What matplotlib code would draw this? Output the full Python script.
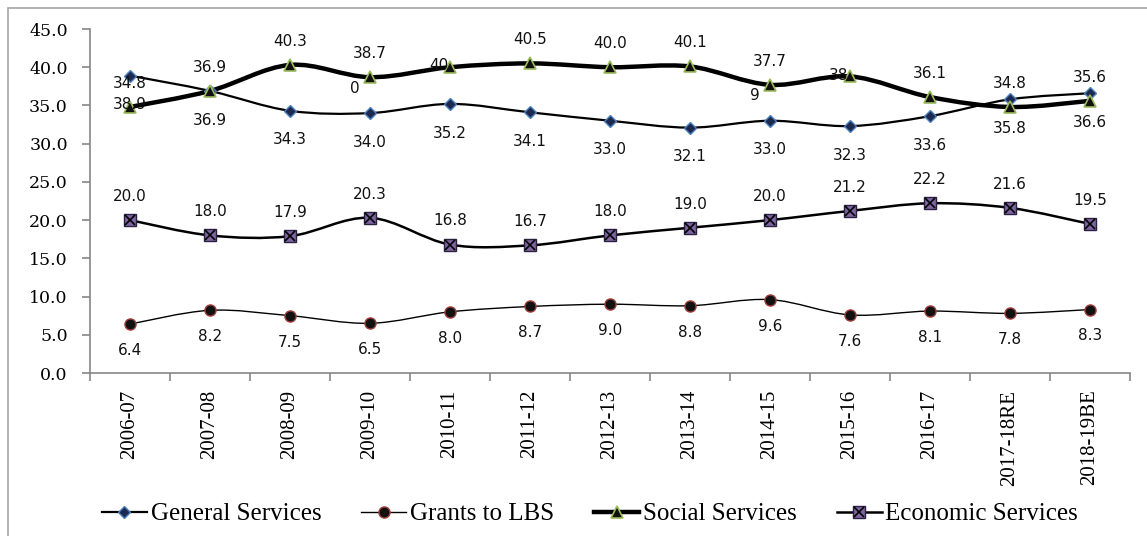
import numpy as np
import matplotlib
matplotlib.use("Agg")
import matplotlib.pyplot as plt
from matplotlib.path import Path
from matplotlib.patches import PathPatch, Rectangle
from matplotlib.lines import Line2D
from matplotlib.legend_handler import HandlerTuple

years = ["2006-07", "2007-08", "2008-09", "2009-10", "2010-11", "2011-12", "2012-13",
         "2013-14", "2014-15", "2015-16", "2016-17", "2017-18RE", "2018-19BE"]

general = [38.9, 36.9, 34.3, 34.0, 35.2, 34.1, 33.0, 32.1, 33.0, 32.3, 33.6, 35.8, 36.6]
grants = [6.4, 8.2, 7.5, 6.5, 8.0, 8.7, 9.0, 8.8, 9.6, 7.6, 8.1, 7.8, 8.3]
social = [34.8, 36.9, 40.3, 38.7, 40.0, 40.5, 40.0, 40.1, 37.7, 38.8, 36.1, 34.8, 35.6]
economic = [20.0, 18.0, 17.9, 20.3, 16.8, 16.7, 18.0, 19.0, 20.0, 21.2, 22.2, 21.6, 19.5]

# labels as they show in the original (some got clipped there)
general_lbl = ["38.9", "36.9", "34.3", "34.0", "35.2", "34.1", "33.0", "32.1", "33.0", "32.3", "33.6", "35.8", "36.6"]
social_lbl = ["34.8", "36.9", "40.3", "38.7", None, "40.5", "40.0", "40.1", "37.7", None, "36.1", "34.8", "35.6"]
grants_lbl = ["%.1f" % v for v in grants]
economic_lbl = ["%.1f" % v for v in economic]


def smooth_path(xs, ys):
    # excel-like smoothed line: catmull-rom segments as cubic beziers
    pts = np.column_stack([xs, ys]).astype(float)
    n = len(pts)
    verts = [pts[0]]
    codes = [Path.MOVETO]
    for i in range(n - 1):
        p0 = pts[i - 1] if i > 0 else pts[i]
        p1 = pts[i]
        p2 = pts[i + 1]
        p3 = pts[i + 2] if i + 2 < n else pts[i + 1]
        c1 = p1 + (p2 - p0) / 6
        c2 = p2 - (p3 - p1) / 6
        verts += [c1, c2, p2]
        codes += [Path.CURVE4] * 3
    return Path(verts, codes)


fig = plt.figure(figsize=(11.47, 5.36), dpi=100)
fig.patches.append(Rectangle((8 / 1147, -0.05), 1.1, 0.05 + 528 / 536, transform=fig.transFigure,
                             fill=False, edgecolor="#a6a6a6", linewidth=1.2, clip_on=False))
ax = fig.add_axes([90 / 1147, 163 / 536, 1040 / 1147, 344 / 536])

x = np.arange(len(years))

series = [
    (general, 1.6, dict(marker="D", ms=6.5, mfc="#1c2a52", mec="#4f81bd", mew=1.0)),
    (grants, 1.0, dict(marker="o", ms=8, mfc="#111111", mec="#a0403c", mew=1.0)),
    (social, 3.2, dict(marker="^", ms=9, mfc="#111111", mec="#9bbb59", mew=1.2)),
    (economic, 1.8, dict(marker="s", ms=8, mfc="#8064a2", mec="#2a2040", mew=1.0)),
]

handles = []
for vals, lw, mk in series:
    ax.add_patch(PathPatch(smooth_path(x, vals), fill=False, edgecolor="black",
                           linewidth=lw, zorder=2, capstyle="round"))
    ax.plot(x, vals, linestyle="none", zorder=3, **mk)
    handles.append(Line2D([], [], color="black", linewidth=lw, **mk))

# the x inside economic services markers
ax.plot(x, economic, linestyle="none", marker="x", ms=7, mec="black", mew=1.2, zorder=4)
econ_x = Line2D([], [], linestyle="none", marker="x", ms=7, mec="black", mew=1.2)
handles[3] = (handles[3], econ_x)

lbl_font = dict(fontsize=11, family="DejaVu Sans", color="#111111", ha="center", va="center")
for i in range(len(years)):
    ax.annotate(general_lbl[i], (x[i], general[i]), xytext=(0, -21), textcoords="offset points", **lbl_font)
    ax.annotate(grants_lbl[i], (x[i], grants[i]), xytext=(0, -19), textcoords="offset points", **lbl_font)
    ax.annotate(economic_lbl[i], (x[i], economic[i]), xytext=(0, 17), textcoords="offset points", **lbl_font)
    if social_lbl[i]:
        ax.annotate(social_lbl[i], (x[i], social[i]), xytext=(0, 17), textcoords="offset points", **lbl_font)

# clipped label bits from the original
ax.annotate("40", (4, social[4]), xytext=(-8, 1), textcoords="offset points", **lbl_font)
ax.annotate("38", (9, social[9]), xytext=(-8, 1), textcoords="offset points", **lbl_font)
ax.annotate("0", (3, social[3]), xytext=(-11, -8), textcoords="offset points", **lbl_font)
ax.annotate("9", (8, social[8]), xytext=(-11, -8), textcoords="offset points", **lbl_font)

ax.set_xlim(-0.5, len(years) - 0.5)
ax.set_ylim(0, 45)
ax.set_yticks(np.arange(0, 46, 5))
ax.set_yticklabels(["%.1f" % v for v in np.arange(0, 46, 5)], family="DejaVu Serif", fontsize=12.5)
ax.set_xticks(x)
ax.set_xticklabels(years, rotation=90, family="Liberation Serif", fontsize=15)
ax.set_xticks(np.arange(-0.5, len(years), 1), minor=True)
ax.tick_params(axis="x", which="major", length=0, pad=12)
ax.tick_params(axis="x", which="minor", length=6, direction="out", color="#868686", width=1.2)
ax.tick_params(axis="y", length=6, direction="out", color="#868686", width=1.2, pad=10)

for s in ["top", "right"]:
    ax.spines[s].set_visible(False)
for s in ["left", "bottom"]:
    ax.spines[s].set_color("#868686")
    ax.spines[s].set_linewidth(1.2)

fig.legend(handles, ["General Services", "Grants to LBS", "Social Services", "Economic Services"],
           handler_map={tuple: HandlerTuple(ndivide=1, pad=0)},
           loc="center", bbox_to_anchor=(590 / 1147, 22 / 536), ncol=4, frameon=False,
           prop=dict(family="Liberation Serif", size=18), handlelength=1.8, handletextpad=0.15,
           columnspacing=1.6)

fig.savefig("out.png", dpi=100)
